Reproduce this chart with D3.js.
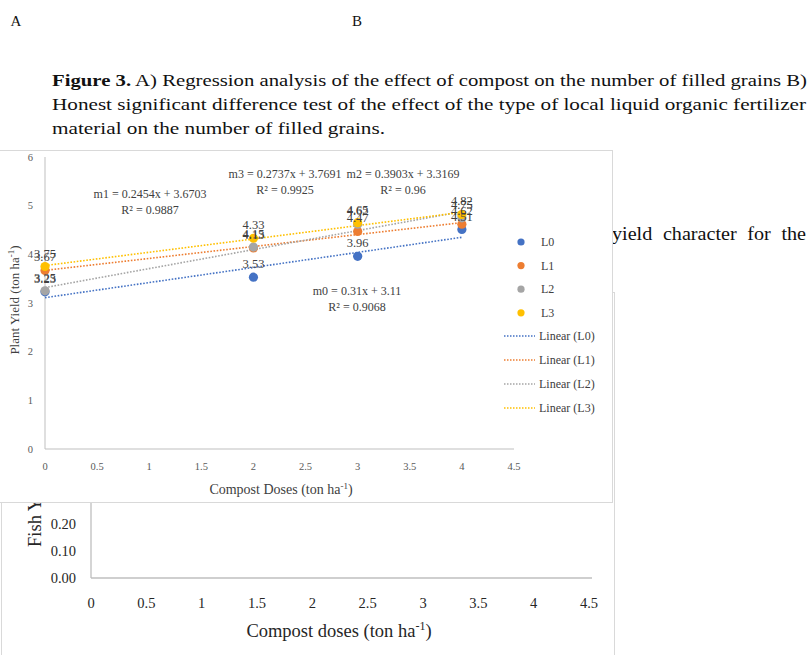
<!DOCTYPE html>
<html>
<head>
<meta charset="utf-8">
<script src="https://cdn.jsdelivr.net/npm/d3@7"></script>
<style>
  html, body { margin: 0; padding: 0; background: #fff; }
  svg { display: block; }
  text { font-family: "Liberation Serif", "DejaVu Serif", serif; }
</style>
</head>
<body>
<svg id="page" width="808" height="655"></svg>
<script>
// ---- data: plant yield (ton/ha) per compost dose for each liquid fertilizer type ----
const doses = [0, 2, 3, 4];
const seriesNames = ["L0", "L1", "L2", "L3"];
const yieldL0 = [3.23, 3.53, 3.96, 4.51];
const yieldL1 = [3.67, 4.13, 4.47, 4.62];
const yieldL2 = [3.25, 4.15, 4.62, 4.75];
const yieldL3 = [3.75, 4.33, 4.65, 4.82];

// linear trend fits shown on the chart
const eqNames = ["m0", "m1", "m2", "m3"];
const slopes = [0.31, 0.2454, 0.3903, 0.2737];
const intercepts = [3.11, 3.6703, 3.3169, 3.7691];
const rSquared = [0.9068, 0.9887, 0.96, 0.9925];

// axis ticks
const xTicksA = [0, 0.5, 1, 1.5, 2, 2.5, 3, 3.5, 4, 4.5];
const yTicksA = [0, 1, 2, 3, 4, 5, 6];
const xTicksB = [0, 0.5, 1, 1.5, 2, 2.5, 3, 3.5, 4, 4.5];
const yTicksB = [0, 0.1, 0.2];

const seriesColors = ["#4472C4", "#ED7D31", "#A5A5A5", "#FFC000"];
const allYields = [yieldL0, yieldL1, yieldL2, yieldL3];

const svg = d3.select("#page");

// ---- page text around the figures ----
svg.append("text").attr("x", 16).attr("y", 26).attr("text-anchor", "middle")
  .attr("font-size", 15).attr("fill", "#111").text("A");
svg.append("text").attr("x", 357).attr("y", 26).attr("text-anchor", "middle")
  .attr("font-size", 15).attr("fill", "#111").text("B");

const cap1 = svg.append("text").attr("x", 52).attr("y", 86).attr("font-size", 17.5).attr("fill", "#111")
  .attr("textLength", 755).attr("lengthAdjust", "spacingAndGlyphs");
cap1.append("tspan").attr("font-weight", "bold").text("Figure 3.");
cap1.append("tspan").text(" A) Regression analysis of the effect of compost on the number of filled grains B)");
svg.append("text").attr("x", 52).attr("y", 110).attr("font-size", 17.5).attr("fill", "#111")
  .attr("textLength", 754).attr("lengthAdjust", "spacingAndGlyphs")
  .text("Honest significant difference test of the effect of the type of local liquid organic fertilizer");
svg.append("text").attr("x", 52).attr("y", 134).attr("font-size", 17.5).attr("fill", "#111")
  .attr("textLength", 333).attr("lengthAdjust", "spacingAndGlyphs")
  .text("material on the number of filled grains.");

svg.append("text").attr("x", 612).attr("y", 240).attr("font-size", 18).attr("fill", "#111")
  .attr("word-spacing", 5).attr("textLength", 194).attr("lengthAdjust", "spacingAndGlyphs")
  .text("yield character for the");

// ---- chart B (fish yield), partly covered by chart A ----
const gB = svg.append("g");
gB.append("rect").attr("x", 1.5).attr("y", 292.5).attr("width", 613).attr("height", 400)
  .attr("fill", "#fff").attr("stroke", "#d9d9d9");

const xB = d3.scaleLinear().domain([0, 4.5]).range([91, 589]);
const yB = d3.scaleLinear().domain([0, 0.3]).range([578, 497]);

gB.append("line").attr("x1", 91).attr("x2", 592).attr("y1", yB(0)).attr("y2", yB(0))
  .attr("stroke", "#bfbfbf").attr("stroke-width", 1.3);
gB.append("line").attr("x1", 91).attr("x2", 91).attr("y1", yB(0)).attr("y2", 300)
  .attr("stroke", "#bfbfbf").attr("stroke-width", 1.3);

gB.selectAll("text.xtb").data(xTicksB).join("text").attr("class", "xtb")
  .attr("x", d => xB(d)).attr("y", 608).attr("text-anchor", "middle")
  .attr("font-size", 14.5).attr("fill", "#262626").text(d => d3.format("~g")(d));
gB.selectAll("text.ytb").data(yTicksB).join("text").attr("class", "ytb")
  .attr("x", 76).attr("y", d => yB(d) + 5).attr("text-anchor", "end")
  .attr("font-size", 14.5).attr("fill", "#262626").text(d => d3.format(".2f")(d));

const xtB = gB.append("text").attr("x", 339).attr("y", 637).attr("text-anchor", "middle")
  .attr("font-size", 18.5).attr("fill", "#262626");
xtB.append("tspan").text("Compost doses (ton ha");
xtB.append("tspan").attr("font-size", 12).attr("dy", -7).text("-1");
xtB.append("tspan").attr("dy", 7).text(")");

const ytB = gB.append("text").attr("transform", "translate(41,547) rotate(-90)")
  .attr("font-size", 18.5).attr("fill", "#262626");
ytB.append("tspan").text("Fish Yield (ton ha");
ytB.append("tspan").attr("font-size", 12).attr("dy", -7).text("-1");
ytB.append("tspan").attr("dy", 7).text(")");

// ---- chart A (plant yield regression) ----
const gA = svg.append("g");
gA.append("rect").attr("x", -0.5).attr("y", 150.5).attr("width", 613).attr("height", 352)
  .attr("fill", "#fff").attr("stroke", "#d9d9d9");

const xA = d3.scaleLinear().domain([0, 4.5]).range([45, 514]);
const yA = d3.scaleLinear().domain([0, 6]).range([449, 157]);

const axisA = gA.append("g");
axisA.append("line").attr("x1", xA(0)).attr("x2", xA(4.5)).attr("y1", yA(0)).attr("y2", yA(0))
  .attr("stroke", "#bfbfbf").attr("stroke-width", 1);
axisA.append("line").attr("x1", xA(0)).attr("x2", xA(0)).attr("y1", yA(0)).attr("y2", yA(6))
  .attr("stroke", "#bfbfbf").attr("stroke-width", 1);

axisA.selectAll("text.xta").data(xTicksA).join("text").attr("class", "xta")
  .attr("x", d => xA(d)).attr("y", 470).attr("text-anchor", "middle")
  .attr("font-size", 10.5).attr("fill", "#595959").text(d => d3.format("~g")(d));
axisA.selectAll("text.yta").data(yTicksA).join("text").attr("class", "yta")
  .attr("x", 33).attr("y", d => yA(d) + 3.5).attr("text-anchor", "end")
  .attr("font-size", 10.5).attr("fill", "#595959").text(d => d);

const xtA = gA.append("text").attr("x", 281).attr("y", 494).attr("text-anchor", "middle")
  .attr("font-size", 14).attr("fill", "#404040");
xtA.append("tspan").text("Compost Doses (ton ha");
xtA.append("tspan").attr("font-size", 9).attr("dy", -5).text("-1");
xtA.append("tspan").attr("dy", 5).text(")");

const ytA = gA.append("text").attr("transform", "translate(19,300) rotate(-90)")
  .attr("text-anchor", "middle").attr("font-size", 13).attr("fill", "#404040");
ytA.append("tspan").text("Plant Yield (ton ha");
ytA.append("tspan").attr("font-size", 9).attr("dy", -5).text("-1");
ytA.append("tspan").attr("dy", 5).text(")");

// dotted linear trend lines from the fitted coefficients
seriesNames.forEach((name, i) => {
  const xs = [0, d3.max(doses)];
  gA.append("line")
    .attr("x1", xA(xs[0])).attr("y1", yA(intercepts[i] + slopes[i] * xs[0]))
    .attr("x2", xA(xs[1])).attr("y2", yA(intercepts[i] + slopes[i] * xs[1]))
    .attr("stroke", seriesColors[i]).attr("stroke-width", 1.6)
    .attr("stroke-dasharray", "1.6,1.6");
});

// points and value labels
seriesNames.forEach((name, i) => {
  const pts = doses.map((d, j) => ({ x: d, y: allYields[i][j] }));
  gA.selectAll("circle.s" + i).data(pts).join("circle").attr("class", "s" + i)
    .attr("cx", d => xA(d.x)).attr("cy", d => yA(d.y)).attr("r", 4.6)
    .attr("fill", seriesColors[i]);
});
seriesNames.forEach((name, i) => {
  const pts = doses.map((d, j) => ({ x: d, y: allYields[i][j] }));
  gA.selectAll("text.v" + i).data(pts).join("text").attr("class", "v" + i)
    .attr("x", d => xA(d.x)).attr("y", d => yA(d.y) - 9).attr("text-anchor", "middle")
    .attr("font-size", 12.5).attr("fill", "#404040").text(d => d3.format(".2f")(d.y));
});

// regression equations
const eqPos = [[357, 295], [150, 198], [403, 178], [285, 178]];
seriesNames.forEach((name, i) => {
  const t = gA.append("text").attr("text-anchor", "middle").attr("font-size", 12).attr("fill", "#404040");
  t.append("tspan").attr("x", eqPos[i][0]).attr("y", eqPos[i][1])
    .text(`${eqNames[i]} = ${slopes[i]}x + ${intercepts[i]}`);
  t.append("tspan").attr("x", eqPos[i][0]).attr("y", eqPos[i][1] + 16)
    .text(`R² = ${rSquared[i]}`);
});

// legend
const legend = gA.append("g");
seriesNames.forEach((name, i) => {
  const yy = 242 + i * 23.6;
  legend.append("circle").attr("cx", 521).attr("cy", yy).attr("r", 3.6).attr("fill", seriesColors[i]);
  legend.append("text").attr("x", 541).attr("y", yy + 4).attr("font-size", 12).attr("fill", "#404040").text(name);
});
seriesNames.forEach((name, i) => {
  const yy = 336 + i * 24;
  legend.append("line").attr("x1", 504).attr("x2", 535).attr("y1", yy).attr("y2", yy)
    .attr("stroke", seriesColors[i]).attr("stroke-width", 1.4).attr("stroke-dasharray", "1.5,1.5");
  legend.append("text").attr("x", 539).attr("y", yy + 4).attr("font-size", 12).attr("fill", "#404040")
    .text(`Linear (${name})`);
});
</script>
</body>
</html>
